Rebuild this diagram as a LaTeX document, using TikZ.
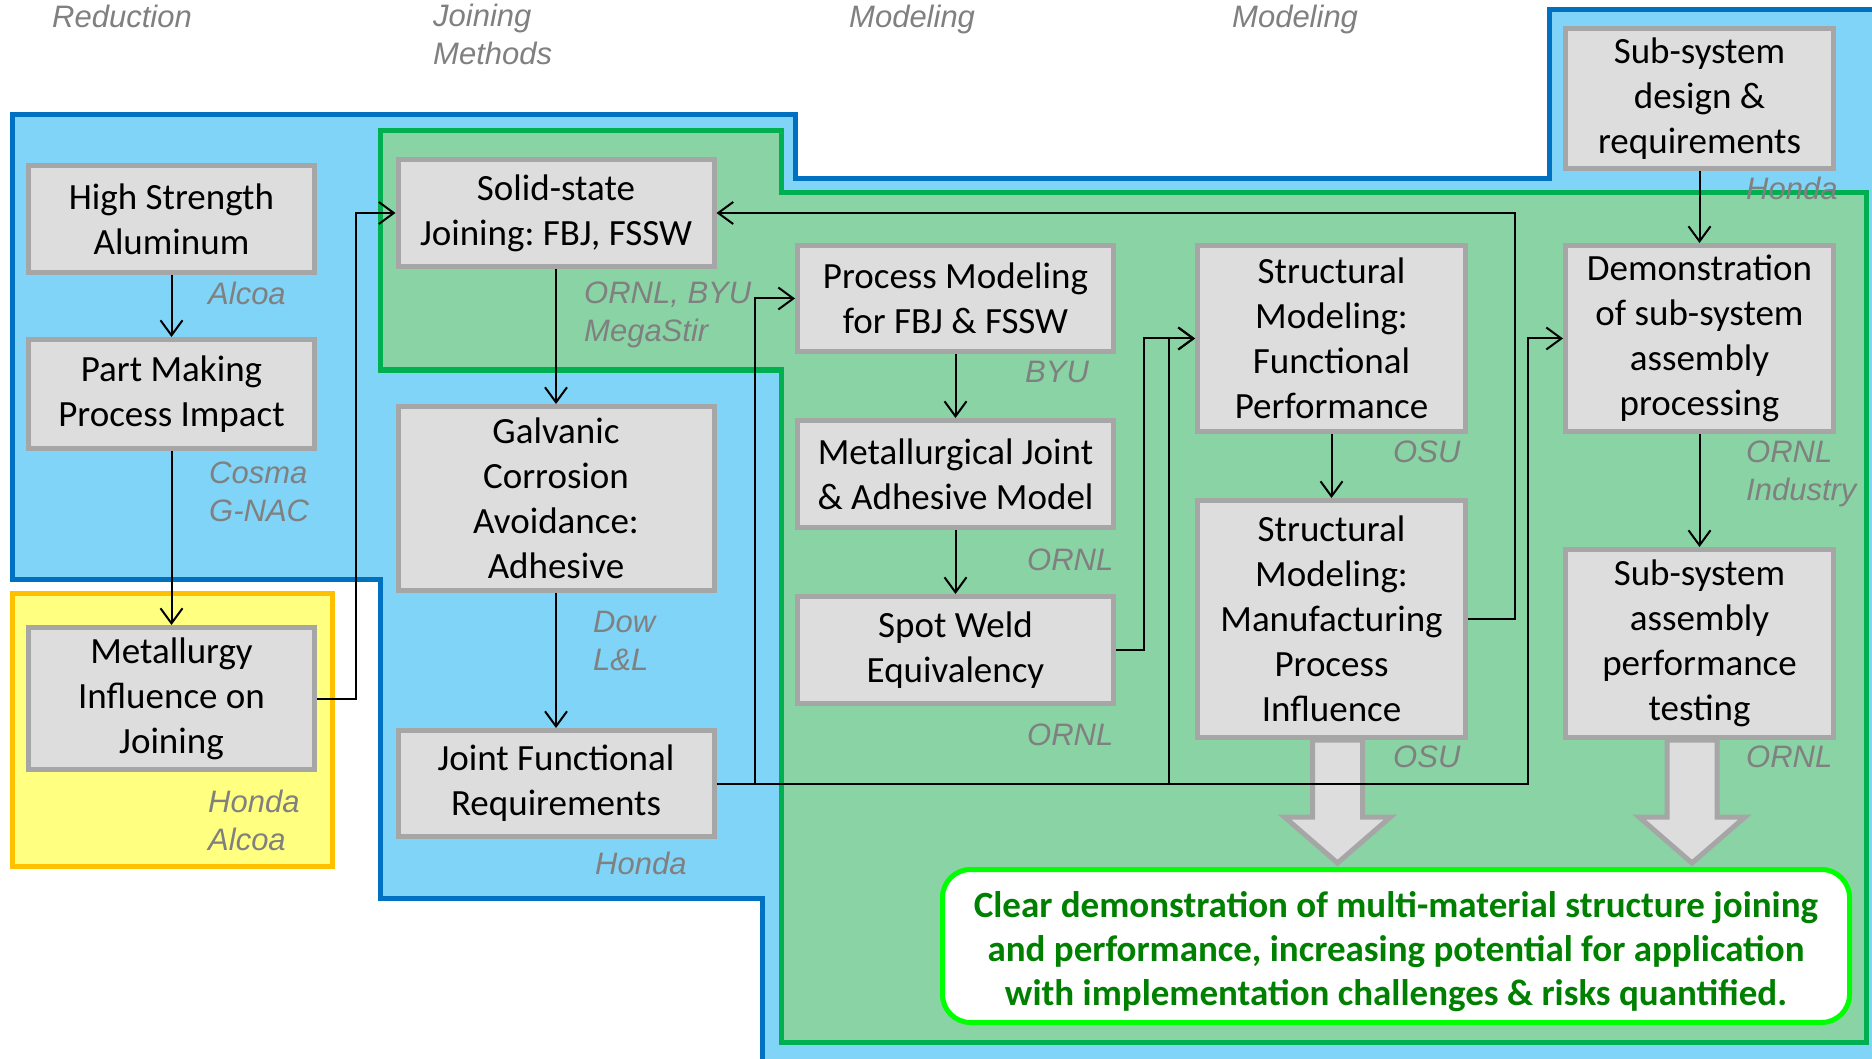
\documentclass[tikz,border=0pt]{standalone}
\usepackage{fontspec}
\usepackage{tikz}
\usetikzlibrary{arrows.meta}
\setmainfont{Carlito}
\newfontfamily\whofont{Liberation Sans}
\frenchspacing
\definecolor{bluefill}{RGB}{128,212,247}
\definecolor{blueline}{RGB}{0,112,192}
\definecolor{greenfill}{RGB}{137,211,165}
\definecolor{greenline}{RGB}{0,176,80}
\definecolor{yellowfill}{RGB}{255,255,128}
\definecolor{orangeline}{RGB}{255,192,0}
\definecolor{boxfill}{RGB}{221,221,221}
\definecolor{boxline}{RGB}{166,166,166}
\definecolor{whogray}{RGB}{128,128,128}
\definecolor{resline}{RGB}{0,255,0}
\definecolor{restext}{RGB}{0,128,0}
\tikzstyle{box}=[draw=boxline,fill=boxfill,line width=5pt,align=center,inner sep=0pt,font=\fontsize{37}{45}\selectfont]
\tikzstyle{who}=[anchor=north west,inner sep=0pt,align=left,text=whogray,font=\whofont\itshape\fontsize{31}{38}\selectfont]
\tikzstyle{conn}=[line width=2pt,-{Straight Barb[length=15pt,width=22pt]}]
\tikzstyle{bigarrow}=[draw=boxline,fill=boxfill,line width=5pt]

\begin{document}
\begin{tikzpicture}[x=1pt,y=-1pt]
\useasboundingbox (0,0) rectangle (1872,1059);
\fill[white] (0,0) rectangle (1872,1059);
\draw[draw=blueline,fill=bluefill,line width=5pt] (12,115)--(795,115)--(795,179)--(1549,179)--(1549,10)--(1880,10)--(1880,1070)--(762,1070)--(762,898)--(380,898)--(380,579)--(12,579)--cycle;
\draw[draw=greenline,fill=greenfill,line width=5pt] (380,131)--(781,131)--(781,193)--(1866,193)--(1866,1042)--(781,1042)--(781,370)--(380,370)--cycle;
\draw[draw=orangeline,fill=yellowfill,line width=5pt] (12,593) rectangle (332,866);

\node[who] (h1) at (52,5) {Reduction};
\node[who,text depth=0pt] (h2) at (433,4) {Joining\\Methods};
\node[who] (h3) at (849,5) {Modeling};
\node[who] (h4) at (1232,5) {Modeling};

\node[box,minimum width=286pt,minimum height=107pt] (hsa) at (171.5,219) {High Strength\\Aluminum};
\node[box,minimum width=286pt,minimum height=109pt] (pmpi) at (171.5,394) {Part Making\\Process Impact};
\node[box,minimum width=286pt,minimum height=142pt] (met) at (171.5,698.5) {Metallurgy\\Influence on\\Joining};
\node[box,minimum width=316pt,minimum height=107pt] (solid) at (556,213) {Solid-state\\Joining: FBJ, FSSW};
\node[box,minimum width=316pt,minimum height=184pt] (galv) at (556,498.5) {Galvanic\\Corrosion\\Avoidance:\\Adhesive};
\node[box,minimum width=316pt,minimum height=106pt] (jfr) at (556,783.5) {Joint Functional\\Requirements};
\node[box,minimum width=316pt,minimum height=106pt] (pm) at (955.5,298.5) {Process Modeling\\for FBJ \& FSSW};
\node[box,minimum width=316pt,minimum height=107pt] (mja) at (955.5,474) {Metallurgical Joint\\\& Adhesive Model};
\node[box,minimum width=316pt,minimum height=107pt] (sw) at (955.5,650) {Spot Weld\\Equivalency};
\node[box,minimum width=268pt,minimum height=186pt] (sf) at (1331.5,338.5) {Structural\\Modeling:\\Functional\\Performance};
\node[box,minimum width=268pt,minimum height=237pt] (sm) at (1331.5,619) {Structural\\Modeling:\\Manufacturing\\Process\\Influence};
\node[box,minimum width=268pt,minimum height=140pt] (ssd) at (1699.5,98.5) {Sub-system\\design \&\\requirements};
\node[box,minimum width=268pt,minimum height=186pt] (dem) at (1699.5,338.5) {Demonstration\\of sub-system\\assembly\\processing};
\node[box,minimum width=268pt,minimum height=188pt] (sst) at (1699.5,643.5) {Sub-system\\assembly\\performance\\testing};

\node[who] (w1) at (208,282) {Alcoa};
\node[who] (w2) at (209,462) {Cosma\\G-NAC};
\node[who] (w3) at (208,790) {Honda\\Alcoa};
\node[who] (w4) at (584,282) {ORNL, BYU\\MegaStir};
\node[who] (w5) at (593,611) {Dow\\L\&L};
\node[who] (w6) at (595,852) {Honda};
\node[who] (w7) at (1025,361) {BYU};
\node[who] (w8) at (1027,549) {ORNL};
\node[who] (w9) at (1027,724) {ORNL};
\node[who] (w10) at (1393,441) {OSU};
\node[who] (w11) at (1393,746) {OSU};
\node[who] (w12) at (1746,177) {Honda};
\node[who] (w13) at (1746,441) {ORNL\\Industry};
\node[who] (w14) at (1746,746) {ORNL};

\draw[bigarrow] (sm.south) ++(-19,0) -- ++(0,77) -- ++(-28,0) -- ++(53,46) -- ++(53,-46) -- ++(-28,0) -- ++(0,-77) -- cycle;
\draw[bigarrow] (sst.south) ++(-32.5,0) -- ++(0,77) -- ++(-28,0) -- ++(53,46) -- ++(53,-46) -- ++(-28,0) -- ++(0,-77) -- cycle;

\coordinate (b1) at (755,783.5);
\coordinate (b2) at (1169,783.5);
\coordinate (b3) at (1528,783.5);
\draw[conn] (hsa) -- (pmpi);
\draw[conn] (pmpi) -- (met);
\draw[conn] (met.east) -- ++(39,0) |- (solid.west);
\draw[conn] (solid) -- (galv);
\draw[conn] (galv) -- (jfr);
\draw[conn] (pm) -- (mja);
\draw[conn] (mja) -- (sw);
\draw[conn] (sf) -- (sm);
\draw[conn] (ssd) -- (dem);
\draw[conn] (dem) -- (sst);
\draw[conn] (sm.east) -- ++(47,0) |- (solid.east);
\draw[conn] (jfr.east) -- (b3) |- (dem.west);
\draw[conn] (b1) |- (pm.west);
\draw[conn] (b2) |- (sf.west);
\draw[conn] (sw.east) -- ++(28,0) |- (sf.west);

\node[draw=resline,fill=white,line width=5pt,rounded corners=28pt,minimum width=907pt,minimum height=153pt,align=center,text=restext,font=\bfseries\fontsize{37}{44}\selectfont] (res) at (1396,946) {\rule{0pt}{38pt}Clear demonstration of multi-material structure joining\\and performance, increasing potential for application\\with implementation challenges \& risks quantified.};
\end{tikzpicture}
\end{document}
